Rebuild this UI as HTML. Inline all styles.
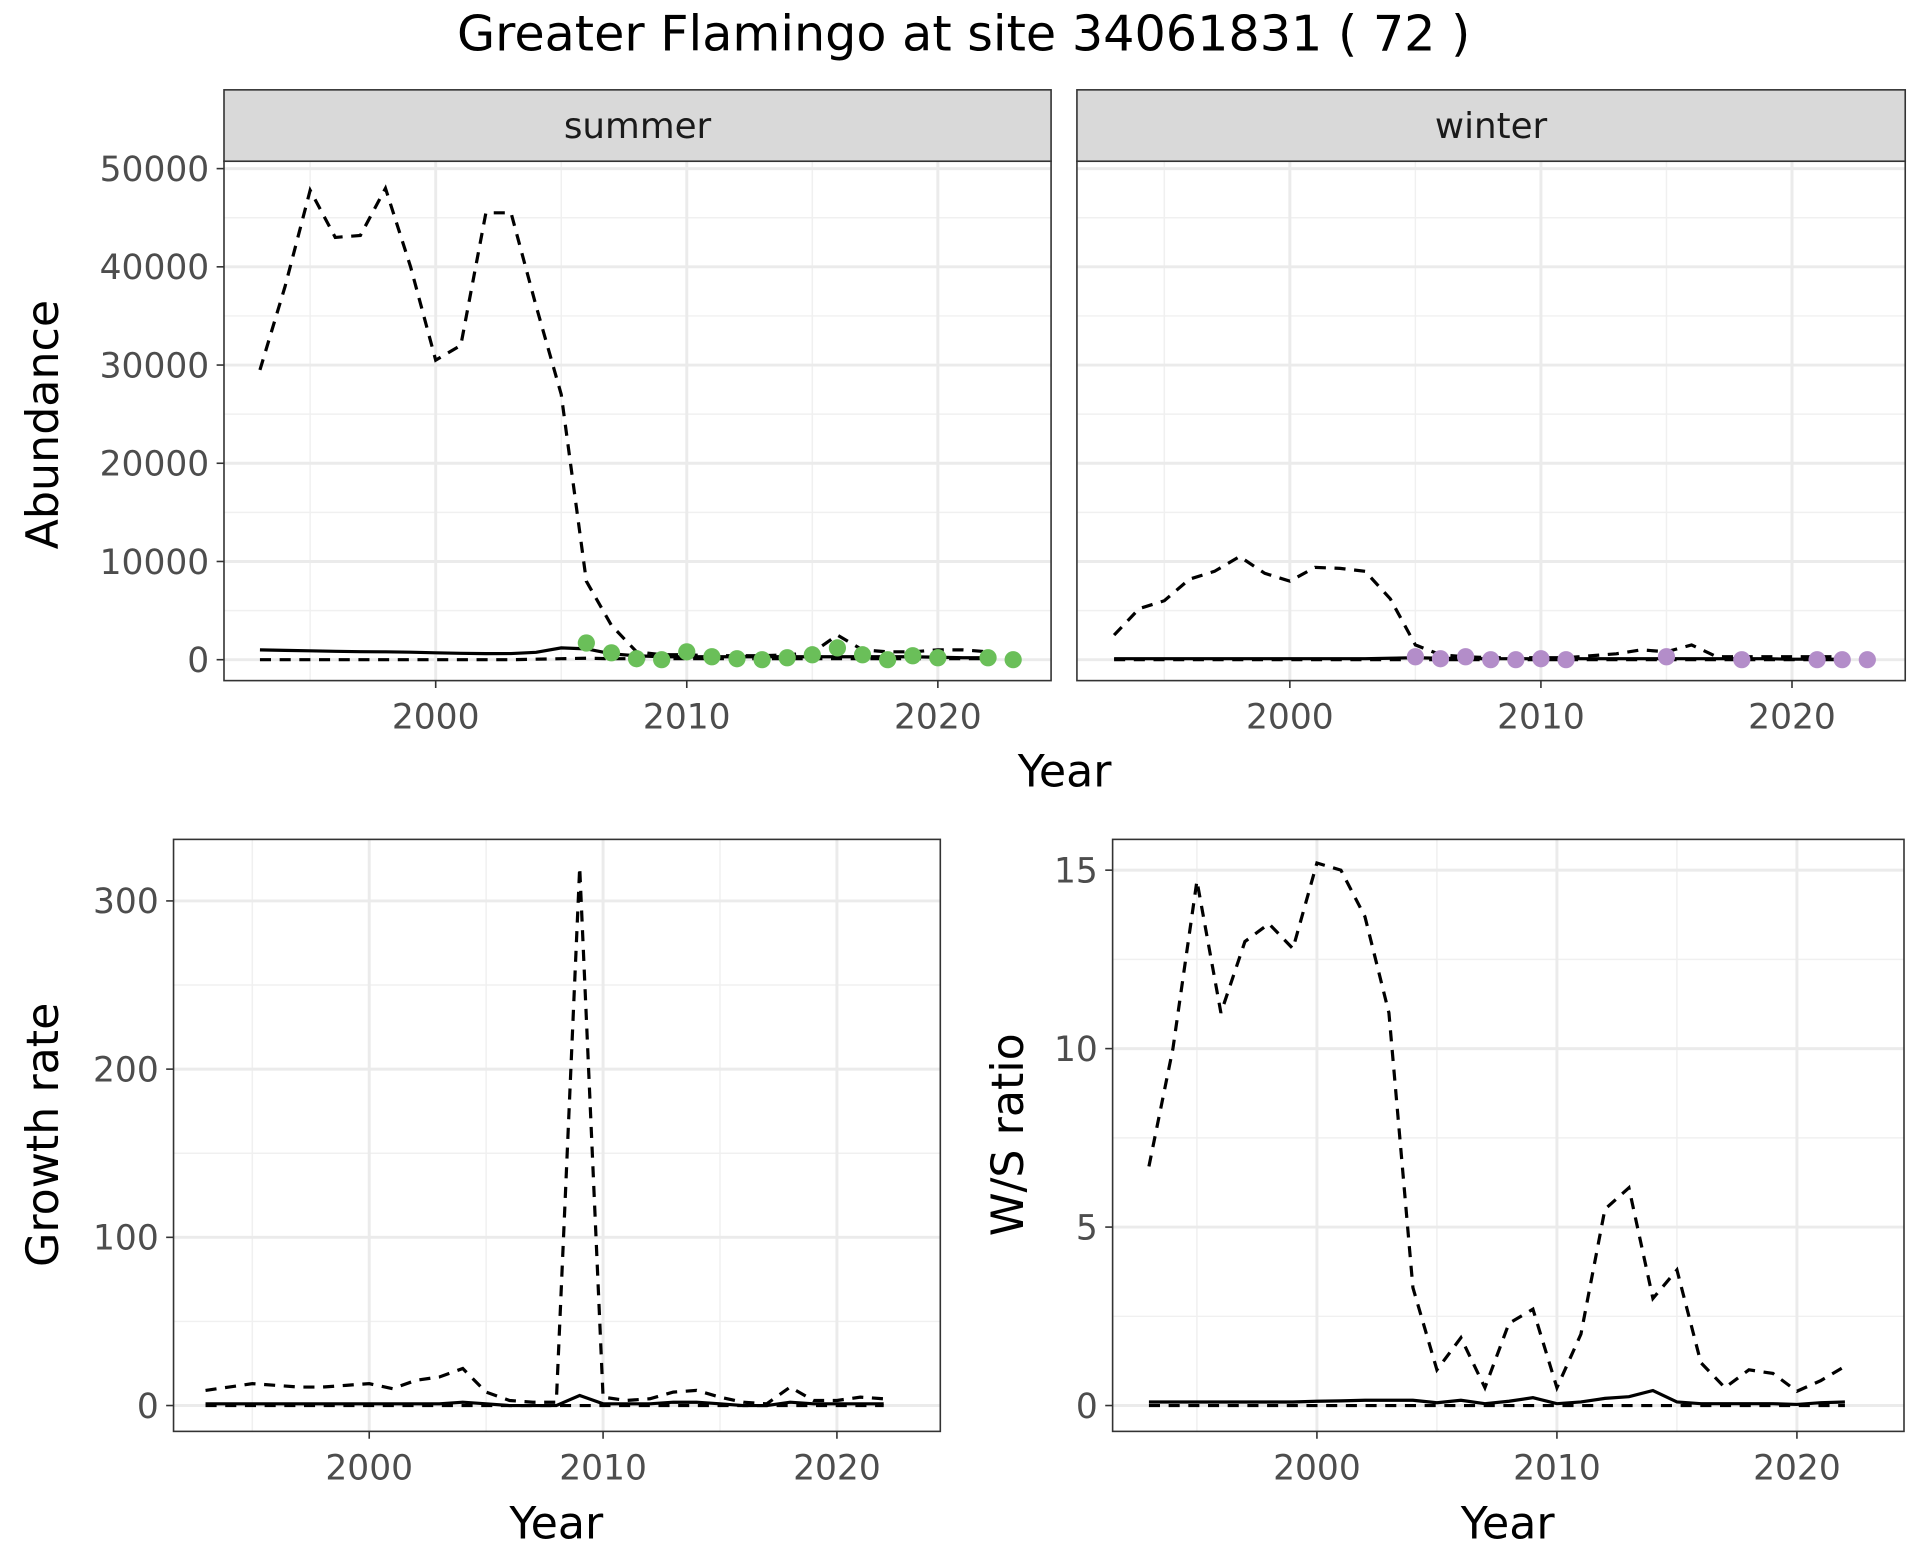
<!DOCTYPE html>
<html><head><meta charset="utf-8"><style>
html,body{margin:0;padding:0;background:#fff;}
svg{display:block;font-family:"DejaVu Sans","Liberation Sans",sans-serif;}
</style></head><body>
<svg id="c" width="1920" height="1560" viewBox="0 0 1560 1267.5" xmlns="http://www.w3.org/2000/svg"></svg>
<script>
const years = [1993,1994,1995,1996,1997,1998,1999,2000,2001,2002,2003,2004,2005,2006,2007,2008,2009,2010,2011,2012,2013,2014,2015,2016,2017,2018,2019,2020,2021,2022];
const sumUpper = [29500,38000,47800,43000,43200,48000,40000,30500,32000,45500,45500,36000,27000,8000,3500,800,500,500,400,400,400,500,700,2500,1000,800,800,1000,1000,800];
const sumMid = [1000,950,900,850,820,800,760,700,650,620,630,750,1200,1100,600,400,300,300,300,300,300,300,300,300,300,300,300,250,200,200];
const sumLow = [0,0,0,0,0,0,0,0,0,0,0,50,100,150,100,100,100,100,100,100,100,100,100,100,100,100,100,100,100,100];
const sumPtYears = [2006,2007,2008,2009,2010,2011,2012,2013,2014,2015,2016,2017,2018,2019,2020,2022,2023];
const sumPts = [1700,700,100,0,800,300,100,0,200,500,1200,500,0,400,200,200,0];
const winUpper = [2500,5200,6000,8200,9000,10500,8800,8000,9400,9300,9000,6200,1500,500,300,200,200,200,200,400,600,1000,800,1500,300,300,300,300,300,300];
const winMid = [100,100,100,100,100,100,100,100,100,100,100,150,200,150,100,100,100,100,100,100,100,100,100,100,100,100,100,50,50,50];
const winLow = [0,0,0,0,0,0,0,0,0,0,0,0,0,0,0,0,0,0,0,0,0,0,0,0,0,0,0,0,0,0];
const winPtYears = [2005,2006,2007,2008,2009,2010,2011,2015,2018,2021,2022,2023];
const winPts = [300,100,300,0,0,100,0,300,0,0,0,0];
const grYears = years;
const grUpper = [9,11,13,12,11,11,12,13,10,15,17,22,8,3,2,2,320,5,3,4,8,9,5,2,1,11,3,3,5,4];
const grMid = [1,1,1,1,1,1,1,1,1,1,1,2,1,0,0,0,6,1,1,1,2,2,1,0,0,2,1,1,1,1];
const grLow = [0,0,0,0,0,0,0,0,0,0,0,0,0,0,0,0,0,0,0,0,0,0,0,0,0,0,0,0,0,0];
const wsUpper = [6.7,10,14.7,11,13,13.5,12.8,15.2,15,13.7,11,3.3,1,1.9,0.5,2.3,2.7,0.5,2,5.5,6.1,3,3.8,1.2,0.5,1,0.9,0.4,0.7,1.1];
const wsMid = [0.1,0.1,0.1,0.1,0.1,0.1,0.1,0.12,0.13,0.15,0.15,0.15,0.08,0.15,0.05,0.12,0.22,0.05,0.1,0.2,0.25,0.42,0.1,0.05,0.05,0.05,0.05,0.03,0.08,0.1];
const wsLow = [0,0,0,0,0,0,0,0,0,0,0,0,0,0,0,0,0,0,0,0,0,0,0,0,0,0,0,0,0,0];
const abTicks = [0,10000,20000,30000,40000,50000];
const grTicks = [0,100,200,300];
const wsTicks = [0,5,10,15];
const xTicks = [2000,2010,2020];

const NS="http://www.w3.org/2000/svg";
const svg=document.getElementById('c');
function el(tag,attrs,parent,name,text){const e=document.createElementNS(NS,tag);for(const k in attrs)e.setAttribute(k,attrs[k]);


if(text!==undefined)e.textContent=text;(parent||svg).appendChild(e);return e;}
function lin(d0,d1,r0,r1){return v=>r0+(v-d0)*(r1-r0)/(d1-d0);}

function panel(o){
  const g=el('g',{},svg,o.name);
  el('rect',{x:o.x0,y:o.y0,width:o.x1-o.x0,height:o.y1-o.y0,fill:'#fff'},g,'plot-background');
  const sx=lin(2000,2010,o.x2000,o.x2010), sy=lin(0,o.yRefV,o.y0px,o.yRefPx);
  for(let i=0;i<o.yTicks.length+1;i++){const v=(i-0.5)*(o.yTicks[1]-o.yTicks[0]);const y=sy(v);if(y>o.y0&&y<o.y1)el('line',{x1:o.x0,x2:o.x1,y1:y,y2:y,stroke:'#f0f0f0','stroke-width':1.2},g,'minor-gridline');}
  [1995,2005,2015].forEach(v=>{const x=sx(v);el('line',{x1:x,x2:x,y1:o.y0,y2:o.y1,stroke:'#f0f0f0','stroke-width':1.2},g,'minor-gridline');});
  o.yTicks.forEach(v=>{const y=sy(v);el('line',{x1:o.x0,x2:o.x1,y1:y,y2:y,stroke:'#ebebeb','stroke-width':2.4},g,'major-gridline');});
  xTicks.forEach(v=>{const x=sx(v);el('line',{x1:x,x2:x,y1:o.y0,y2:o.y1,stroke:'#ebebeb','stroke-width':2.4},g,'major-gridline');});
  const line=(xs,ys,dash,name)=>{el('path',{d:xs.map((x,i)=>(i?'L':'M')+sx(x).toFixed(1)+','+sy(ys[i]).toFixed(1)).join(''),fill:'none',stroke:'#000','stroke-width':2.6,'stroke-dasharray':dash||'none'},g,name);};
  o.lines.forEach(l=>line(o.xs,l.v,l.dash,l.name));
  if(o.pts){o.pts.y.forEach((v,i)=>{el('circle',{cx:sx(o.pts.x[i]),cy:sy(v),r:7,fill:o.pts.color},g,'data-point');});}
  el('rect',{x:o.x0,y:o.y0,width:o.x1-o.x0,height:o.y1-o.y0,fill:'none',stroke:'#333','stroke-width':1.3},g,'panel-border');
  if(o.showY){o.yTicks.forEach(v=>{const y=sy(v);el('line',{x1:o.x0-6,x2:o.x0,y1:y,y2:y,stroke:'#333','stroke-width':1.3},g,'y-tick');
    el('text',{x:o.x0-12,y:y+10,'text-anchor':'end','font-size':28,fill:'#4d4d4d'},g,'y-tick-label',String(v));});}
  xTicks.forEach(v=>{const x=sx(v);el('line',{x1:x,x2:x,y1:o.y1,y2:o.y1+6,stroke:'#333','stroke-width':1.3},g,'x-tick');
    el('text',{x:x,y:o.y1+39,'text-anchor':'middle','font-size':28,fill:'#4d4d4d'},g,'x-tick-label',String(v));});
  if(o.strip){el('rect',{x:o.x0,y:73,width:o.x1-o.x0,height:o.y0-73,fill:'#d9d9d9',stroke:'#333','stroke-width':1.3},g,'facet-strip');
    el('text',{x:(o.x0+o.x1)/2,y:112,'text-anchor':'middle','font-size':29,fill:'#1a1a1a'},g,'facet-label',o.strip);}
}
el('text',{x:783,y:41,'text-anchor':'middle','font-size':40,fill:'#000'},svg,'chart-title','Greater Flamingo at site 34061831 ( 72 )');

panel({name:'summer-panel',x0:182,x1:854,y0:131,y1:553,x2000:354,x2010:558,y0px:536,yRefV:50000,yRefPx:137,yTicks:abTicks,showY:true,strip:'summer',xs:years,
  lines:[{v:sumUpper,dash:'9,7',name:'summer-upper-line'},{v:sumMid,name:'summer-trend-line'},{v:sumLow,dash:'9,7',name:'summer-lower-line'}],
  pts:{x:sumPtYears,y:sumPts,color:'#6abf59'}});
panel({name:'winter-panel',x0:875,x1:1548,y0:131,y1:553,x2000:1048,x2010:1252,y0px:536,yRefV:50000,yRefPx:137,yTicks:abTicks,showY:false,strip:'winter',xs:years,
  lines:[{v:winUpper,dash:'9,7',name:'winter-upper-line'},{v:winMid,name:'winter-trend-line'},{v:winLow,dash:'9,7',name:'winter-lower-line'}],
  pts:{x:winPtYears,y:winPts,color:'#b38dc9'}});
panel({name:'growth-panel',x0:141,x1:764,y0:682,y1:1163,x2000:300,x2010:490,y0px:1142,yRefV:300,yRefPx:732,yTicks:grTicks,showY:true,xs:grYears,
  lines:[{v:grUpper,dash:'9,7',name:'growth-upper-line'},{v:grMid,name:'growth-trend-line'},{v:grLow,dash:'9,7',name:'growth-lower-line'}]});
panel({name:'ratio-panel',x0:904,x1:1547,y0:682,y1:1163,x2000:1070,x2010:1265,y0px:1142,yRefV:15,yRefPx:707,yTicks:wsTicks,showY:true,xs:years,
  lines:[{v:wsUpper,dash:'9,7',name:'ratio-upper-line'},{v:wsMid,name:'ratio-trend-line'},{v:wsLow,dash:'9,7',name:'ratio-lower-line'}]});

el('text',{x:865,y:639,'text-anchor':'middle','font-size':36},svg,'x-axis-title','Year');
el('text',{x:452,y:1250,'text-anchor':'middle','font-size':36},svg,'x-axis-title','Year');
el('text',{x:1225,y:1250,'text-anchor':'middle','font-size':36},svg,'x-axis-title','Year');
el('text',{x:0,y:0,'text-anchor':'middle','font-size':36,transform:'translate(47,345) rotate(-90)'},svg,'y-axis-title','Abundance');
el('text',{x:0,y:0,'text-anchor':'middle','font-size':36,transform:'translate(47,922) rotate(-90)'},svg,'y-axis-title','Growth rate');
el('text',{x:0,y:0,'text-anchor':'middle','font-size':36,transform:'translate(831,922) rotate(-90)'},svg,'y-axis-title','W/S ratio');
</script>
</body></html>
